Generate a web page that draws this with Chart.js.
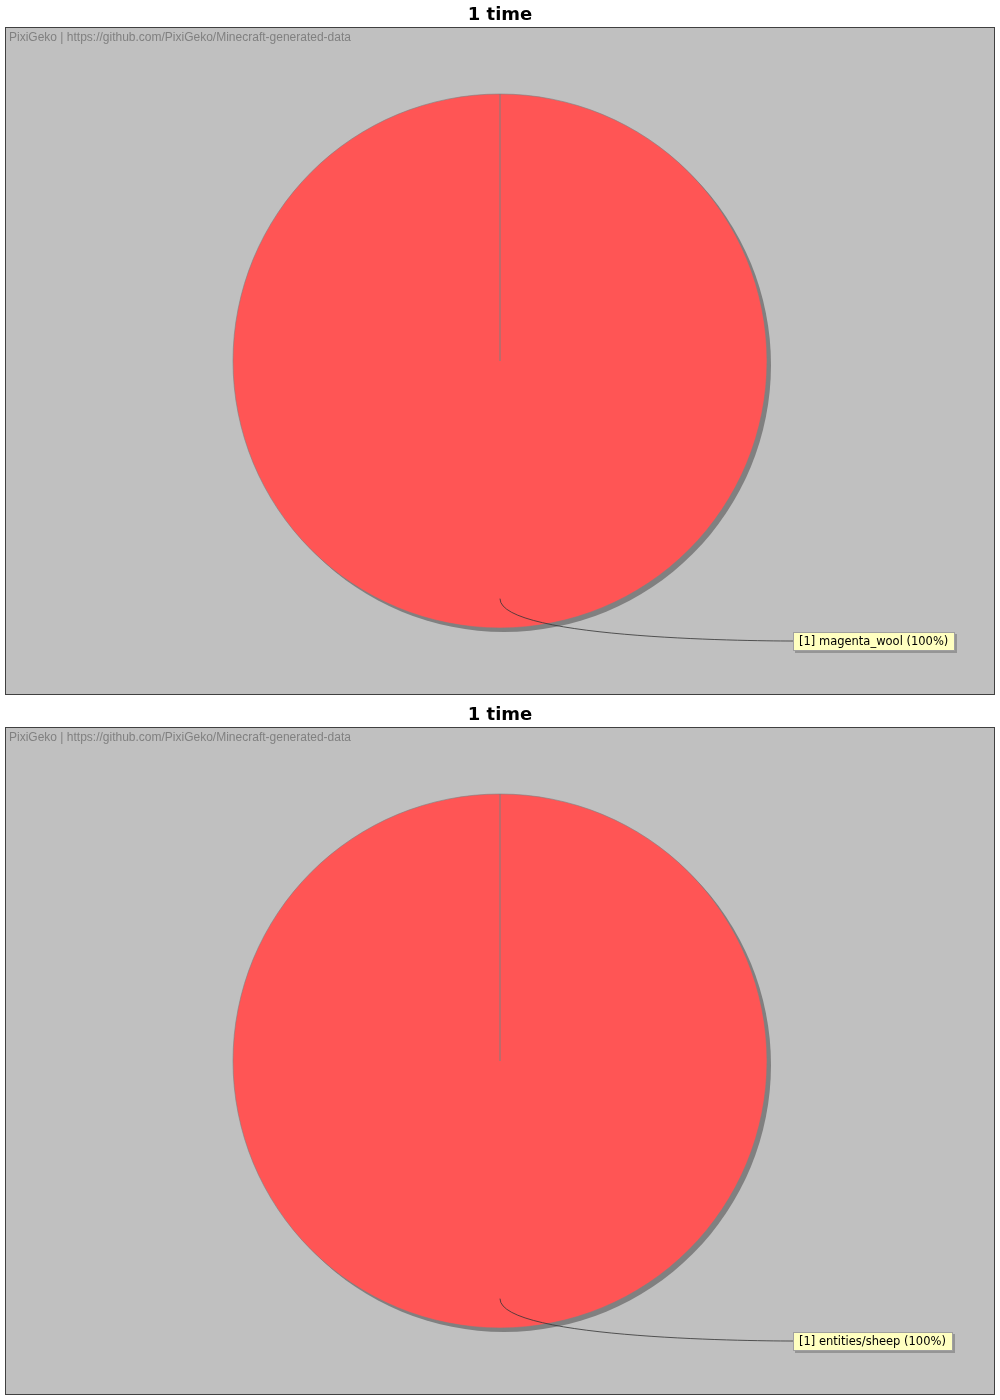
<!DOCTYPE html>
<html>
<head>
<meta charset="utf-8">
<script src="https://cdn.jsdelivr.net/npm/chart.js@4.4.1/dist/chart.umd.min.js"></script>
<style>
  html, body { margin: 0; padding: 0; background: #ffffff; }
  canvas { display: block; }
</style>
</head>
<body>
<canvas id="c1" width="1000" height="700"></canvas>
<canvas id="c2" width="1000" height="700"></canvas>
<script>
// ---- data ----
const titles = ['1 time', '1 time'];
const categories1 = ['magenta_wool'];
const values1 = [1];
const categories2 = ['entities/sheep'];
const values2 = [1];
const watermark = 'PixiGeko | https://github.com/PixiGeko/Minecraft-generated-data';

const framePlugin = {
  id: 'frame',
  beforeDraw(chart) {
    const { ctx, chartArea: a } = chart;
    ctx.save();
    ctx.fillStyle = '#c0c0c0';
    ctx.fillRect(a.left, a.top, a.right - a.left, a.bottom - a.top);
    ctx.strokeStyle = '#404040';
    ctx.lineWidth = 1;
    ctx.strokeRect(a.left + 0.5, a.top + 0.5, a.right - a.left - 1, a.bottom - a.top - 1);
    ctx.fillStyle = '#808080';
    ctx.font = '12px "Liberation Sans", Arial, sans-serif';
    ctx.textBaseline = 'middle';
    ctx.textAlign = 'left';
    ctx.fillText(watermark, a.left + 4, a.top + 11);
    ctx.restore();
  },
  beforeDatasetsDraw(chart) {
    const arc = chart.getDatasetMeta(0).data[0];
    if (!arc) return;
    const { ctx } = chart;
    ctx.save();
    ctx.fillStyle = '#808080';
    ctx.beginPath();
    ctx.arc(arc.x + 4, arc.y + 4, arc.outerRadius, 0, Math.PI * 2);
    ctx.fill();
    ctx.restore();
  },
  afterDatasetsDraw(chart, args, opts) {
    const meta = chart.getDatasetMeta(0);
    const ds = chart.data.datasets[0];
    const total = ds.data.reduce((s, v) => s + v, 0);
    const { ctx } = chart;
    meta.data.forEach((arc, i) => {
      const mid = (arc.startAngle + arc.endAngle) / 2;
      const r = arc.outerRadius;
      const lx = arc.x + Math.cos(mid) * r * 0.89;
      const ly = arc.y + Math.sin(mid) * r * 0.89;
      const ex = arc.x + Math.cos(mid) * r * 1.045;
      const ey = arc.y + Math.sin(mid) * r * 1.045;
      const tx = opts.labelLeft;
      const ty = ey + 1;
      const pct = Math.round(ds.data[i] / total * 100);
      const text = '[' + ds.data[i] + '] ' + chart.data.labels[i] + ' (' + pct + '%)';
      ctx.save();
      ctx.strokeStyle = '#333333';
      ctx.lineWidth = 0.8;
      ctx.beginPath();
      ctx.moveTo(lx, ly);
      ctx.bezierCurveTo(ex, ey, tx - 23, ty, tx, ty);
      ctx.stroke();
      ctx.font = '11.5px "DejaVu Sans", Verdana, sans-serif';
      const w = Math.round(ctx.measureText(text).width) + 13;
      const h = 19;
      const bx = tx, by = Math.round(ty - h / 2);
      ctx.fillStyle = '#959595';
      ctx.fillRect(bx + 2, by + 2, w, h);
      ctx.fillStyle = '#ffffc0';
      ctx.fillRect(bx, by, w, h);
      ctx.strokeStyle = '#a0a0a0';
      ctx.lineWidth = 1;
      ctx.strokeRect(bx + 0.5, by + 0.5, w - 1, h - 1);
      ctx.fillStyle = '#000000';
      ctx.textBaseline = 'middle';
      ctx.textAlign = 'left';
      ctx.fillText(text, bx + 6, by + h / 2 + 0.5);
      ctx.restore();
    });
  }
};

function makeChart(id, title, cats, vals) {
  return new Chart(document.getElementById(id), {
    type: 'pie',
    data: {
      labels: cats,
      datasets: [{
        data: vals,
        backgroundColor: '#ff5555',
        borderColor: '#808080',
        borderWidth: 0.6,
        radius: 267
      }]
    },
    options: {
      responsive: false,
      devicePixelRatio: 1,
      animation: false,
      events: [],
      layout: { padding: { left: 5, right: 5, bottom: 5, top: 0 } },
      plugins: {
        legend: { display: false },
        tooltip: { enabled: false },
        title: {
          display: true,
          text: title,
          color: '#000000',
          font: { family: '"DejaVu Sans", sans-serif', size: 18, weight: 'bold', lineHeight: 1.2 },
          padding: { top: 5, bottom: 0.4 }
        },
        frame: { labelLeft: 793 }
      }
    },
    plugins: [framePlugin]
  });
}

makeChart('c1', titles[0], categories1, values1);
makeChart('c2', titles[1], categories2, values2);
</script>
</body>
</html>
